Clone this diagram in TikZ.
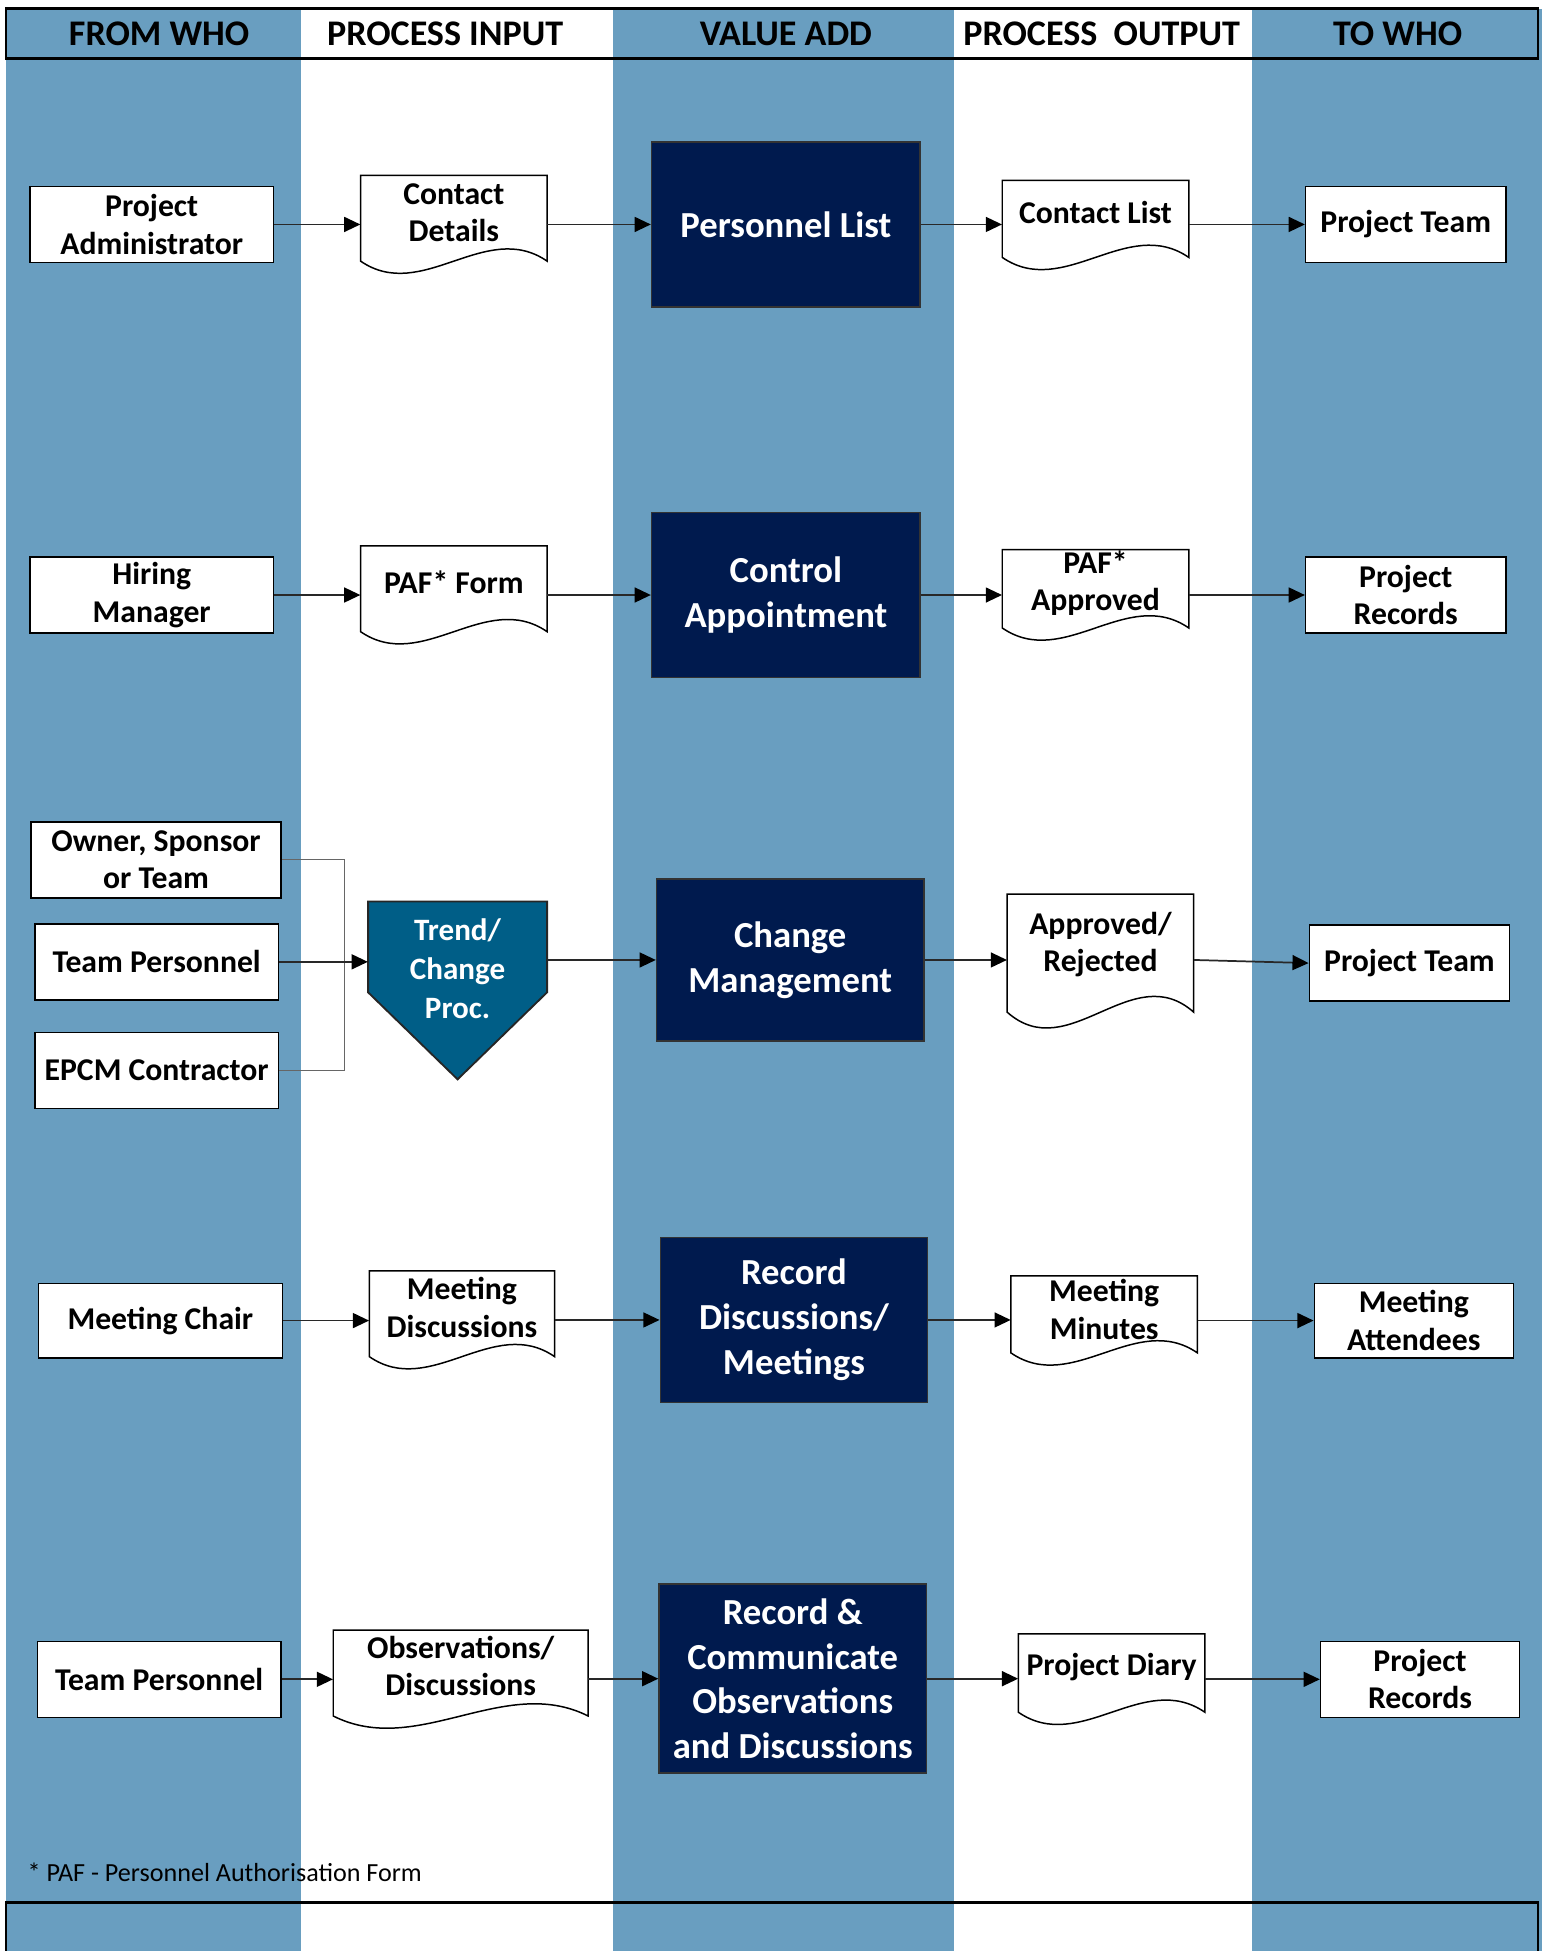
\documentclass[tikz,border=0pt]{standalone}
\usepackage{fontspec}
\setmainfont{Carlito}
\usetikzlibrary{arrows.meta}
\definecolor{colblue}{RGB}{105,158,192}
\definecolor{navy}{RGB}{0,26,78}
\definecolor{trendc}{RGB}{0,94,135}
\definecolor{linec}{RGB}{40,40,40}
\tikzset{
  wbox/.style={draw=black, line width=1.2pt, fill=white, align=center, inner sep=0pt,
    font=\fontsize{25.5}{30}\selectfont\bfseries},
  nbox/.style={draw=black!80, line width=1.2pt, fill=navy, text=white, align=center, inner sep=0pt,
    font=\fontsize{29.5}{36}\selectfont\bfseries},
  doctext/.style={align=center, inner sep=0pt, font=\fontsize{25.5}{30}\selectfont\bfseries},
  docline/.style={draw=black, line width=1.2pt, fill=white},
  hdr/.style={font=\fontsize{29}{34}\selectfont\bfseries, inner sep=0pt},
  conn/.style={draw=linec, line width=1.4pt},
  arr/.style={conn, -{Triangle[length=13pt,width=12pt,black]}},
}
% #1 name, #2 x0, #3 y0, #4 x1, #5 yb, #6 text centre y, #7 wave, #8 text
\newcommand\docnode[8]{%
  \filldraw[docline] (#2,#3) -- (#4,#3) -- (#4,#5)
    .. controls ({#2+0.67*(#4-#2)},{#5-#7}) and ({#2+0.33*(#4-#2)},{#5+#7}) .. (#2,#5) -- cycle;
  \node[doctext, minimum width={(#4-#2)*1pt}, minimum height={2*(#6-#3)*1pt}] (#1) at ({(#2+#4)/2},#6) {#8};
}
\begin{document}
\begin{tikzpicture}[x=1pt,y=-1pt]
\useasboundingbox (0,0) rectangle (1240,1569);
% columns
\fill[colblue] (5,7) rectangle (242,1569);
\fill[colblue] (493,7) rectangle (767,1569);
\fill[colblue] (1007,7) rectangle (1240,1569);
% header frame
\draw[line width=2pt] (5,7) rectangle (1237,47);
\draw[line width=2pt] (5,1575) -- (5,1530) -- (1237,1530) -- (1237,1575);
\node[hdr] (h1) at (128,27) {FROM WHO};
\node[hdr] (h2) at (358,27) {PROCESS INPUT};
\node[hdr] (h3) at (632,27) {VALUE ADD};
\node[hdr] (h4) at (886,27) {PROCESS\ \ OUTPUT};
\node[hdr] (h5) at (1124,27) {TO WHO};

% Row 1
\node[wbox, minimum width=196pt, minimum height=61pt] (pa) at (122,180.5) {Project\\Administrator};
\docnode{cd}{290}{141}{440}{210}{171}{34}{Contact\\Details}
\node[nbox, minimum width=216pt, minimum height=133pt] (pl) at (632,180.5) {Personnel List};
\docnode{cl}{806}{145}{956}{207}{171}{34}{Contact List}
\node[wbox, minimum width=161pt, minimum height=61pt] (pt1) at (1130.5,180.5) {\raisebox{-2pt}{Project Team}};
\draw[arr] (pa.east) -- (pa.east -| cd.west);
\draw[arr] (cd.east |- pl.west) -- (pl.west);
\draw[arr] (pl.east) -- (pl.east -| cl.west);
\draw[arr] (cl.east |- pt1.west) -- (pt1.west);

% Row 2
\node[wbox, minimum width=196pt, minimum height=61pt] (hm) at (122,478.5) {Hiring\\Manager};
\docnode{paf}{290}{439}{440}{508}{468}{34}{PAF* Form}
\node[nbox, minimum width=216pt, minimum height=133pt] (ca) at (632,478.5) {Control\\Appointment};
\docnode{pafa}{806}{442}{956}{505}{469}{34}{PAF*\\Approved}
\node[wbox, minimum width=161pt, minimum height=61pt] (pr1) at (1130.5,478.5) {Project\\Records};
\draw[arr] (hm.east) -- (hm.east -| paf.west);
\draw[arr] (paf.east |- ca.west) -- (ca.west);
\draw[arr] (ca.east) -- (ca.east -| pafa.west);
\draw[arr] (pafa.east |- pr1.west) -- (pr1.west);

% Row 3
\node[wbox, minimum width=201pt, minimum height=61pt] (own) at (125.5,691.5) {Owner, Sponsor\\or Team};
\node[wbox, minimum width=196pt, minimum height=61pt] (tpers) at (126,773.5) {Team Personnel};
\node[wbox, minimum width=196pt, minimum height=61pt] (epcm) at (126,861) {EPCM Contractor};
\filldraw[fill=trendc, draw=black!85, line width=1.5pt] (296,725) -- (440,725) -- (440,798) -- (368,868) -- (296,798) -- cycle;
\node[align=center, inner sep=0pt, text=white, font=\fontsize{25}{31}\selectfont\bfseries,
  minimum width=144pt, minimum height=108pt] (trend) at (368,779) {Trend/\\Change\\Proc.};
\node[nbox, minimum width=215pt, minimum height=130pt] (cm) at (635.5,772) {Change\\Management};
\docnode{ar}{810}{719}{960}{814}{759.5}{44}{Approved/\\Rejected}
\node[wbox, minimum width=161pt, minimum height=61pt] (pt2) at (1133.5,774.5) {\raisebox{-2pt}{Project Team}};
\coordinate (brk) at (277,691.5);
\draw[conn, line width=1pt, draw=black!60] (own.east) -- (own.east -| brk) |- (epcm.east);
\draw[arr] (tpers.east) -- (tpers.east -| trend.west);
\draw[arr] (trend.east |- cm.west) -- (cm.west);
\draw[arr] (cm.east) -- (cm.east -| ar.west);
\draw[arr] (ar.east |- cm.east) -- (pt2.west);

% Row 4
\node[wbox, minimum width=196pt, minimum height=60pt] (mc) at (129,1062) {\raisebox{-2pt}{Meeting Chair}};
\docnode{md}{297}{1022}{446}{1091}{1051.5}{34}{Meeting\\Discussions}
\node[nbox, minimum width=215pt, minimum height=133pt] (rd) at (638.5,1061.5) {Record\\Discussions/\\Meetings};
\docnode{mm}{813}{1026}{963}{1088}{1053}{34}{Meeting\\Minutes}
\node[wbox, minimum width=160pt, minimum height=60pt] (ma) at (1137,1062) {Meeting\\Attendees};
\draw[arr] (mc.east) -- (mc.east -| md.west);
\draw[arr] (md.east |- rd.west) -- (rd.west);
\draw[arr] (rd.east) -- (rd.east -| mm.west);
\draw[arr] (mm.east |- ma.west) -- (ma.west);

% Row 5
\node[wbox, minimum width=196pt, minimum height=61pt] (tp5) at (128,1350.5) {Team Personnel};
\docnode{od}{268}{1311}{473}{1380}{1340}{34}{Observations/\\Discussions}
\node[nbox, minimum width=215pt, minimum height=152pt] (rc) at (637.5,1350) {Record \&\\Communicate\\Observations\\and Discussions};
\docnode{pd}{819}{1314}{969}{1377}{1341}{34}{Project Diary}
\node[wbox, minimum width=160pt, minimum height=61pt] (pr2) at (1142,1350.5) {Project\\Records};
\draw[arr] (tp5.east) -- (tp5.east -| od.west);
\draw[arr] (od.east |- rc.west) -- (rc.west);
\draw[arr] (rc.east) -- (rc.east -| pd.west);
\draw[arr] (pd.east |- pr2.west) -- (pr2.west);

% footnote
\node[anchor=west, inner sep=0pt, font=\fontsize{21}{25}\selectfont] (fn) at (22,1506) {* PAF - Personnel Authorisation Form};
\end{tikzpicture}
\end{document}
